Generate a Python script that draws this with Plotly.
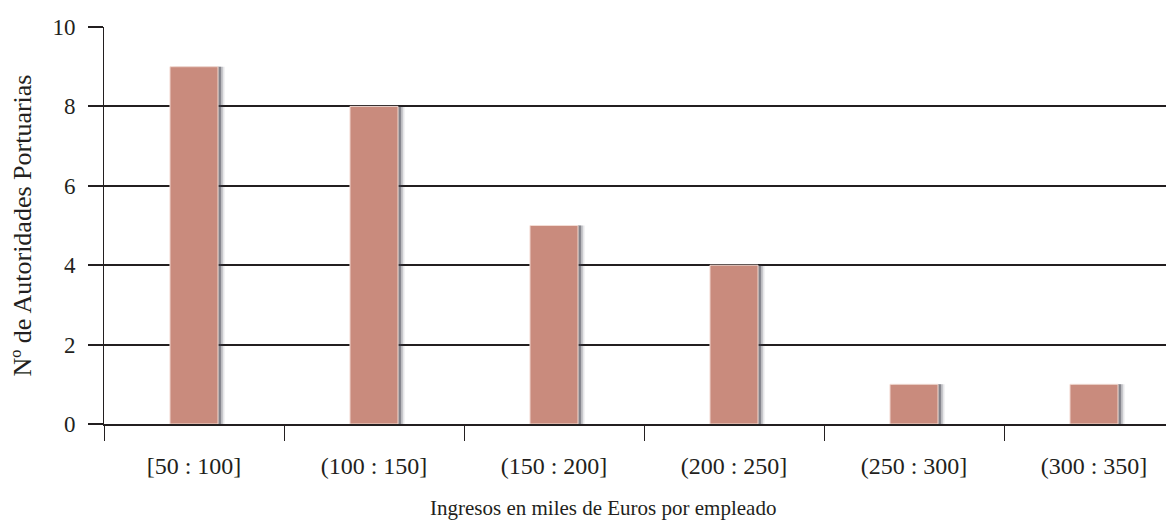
import plotly.graph_objects as go

categories = ["[50 : 100]", "(100 : 150]", "(150 : 200]", "(200 : 250]", "(250 : 300]", "(300 : 350]"]
counts = [9, 8, 5, 4, 1, 1]
y_ticks = [0, 2, 4, 6, 8, 10]
x_title = "Ingresos en miles de Euros por empleado"
y_title = "Nº de Autoridades Portuarias"

bar_color = "#C98B7D"
ink = "#231F20"
font_family = "Liberation Serif, DejaVu Serif, serif"

bar_w = 0.267

fig = go.Figure()
# soft, layered shadow behind the bars
for shift, alpha in [(0.036, 0.12), (0.026, 0.25), (0.016, 0.45)]:
    fig.add_trace(go.Bar(
        x=categories, y=counts, width=bar_w, offset=-bar_w / 2 + shift,
        marker=dict(color=f"rgba(60,60,70,{alpha})", line=dict(width=0)),
        hoverinfo="skip", showlegend=False,
    ))
fig.add_trace(go.Bar(
    x=categories, y=counts, width=bar_w, offset=-bar_w / 2,
    marker=dict(color=bar_color, line=dict(color="#F3DCD4", width=1)),
    showlegend=False,
))

fig.add_annotation(
    text=x_title, xref="paper", yref="paper",
    x=(595 - 96) / 1078, y=0, yshift=-84,
    xanchor="center", yanchor="middle", showarrow=False,
    font=dict(size=21, family=font_family, color=ink),
)

fig.update_layout(
    width=1174, height=517,
    margin=dict(l=96, r=0, t=19, b=101),
    paper_bgcolor="white", plot_bgcolor="white",
    barmode="overlay",
    font=dict(family=font_family, color=ink, size=21),
    xaxis=dict(
        type="category",
        automargin=False,
        range=[-0.5, -0.5 + 1078 / 180],
        tickson="boundaries",
        ticks="outside", ticklen=15, tickwidth=1, tickcolor=ink,
        ticklabelstandoff=19,
        showline=True, linecolor=ink, linewidth=2,
        showgrid=False,
        tickfont=dict(size=24, family=font_family, color=ink),
    ),
    yaxis=dict(
        automargin=False,
        range=[0, 10],
        tickvals=y_ticks,
        ticks="outside", ticklen=15, tickwidth=2, tickcolor=ink,
        ticklabelstandoff=8,
        showline=True, linecolor=ink, linewidth=1,
        showgrid=True, gridcolor=ink, gridwidth=2,
        zeroline=False,
        tickfont=dict(size=23, family=font_family, color=ink),
        title=dict(text=y_title,
                   font=dict(size=26, family=font_family, color=ink), standoff=20),
    ),
)

fig.write_html("out.html")
